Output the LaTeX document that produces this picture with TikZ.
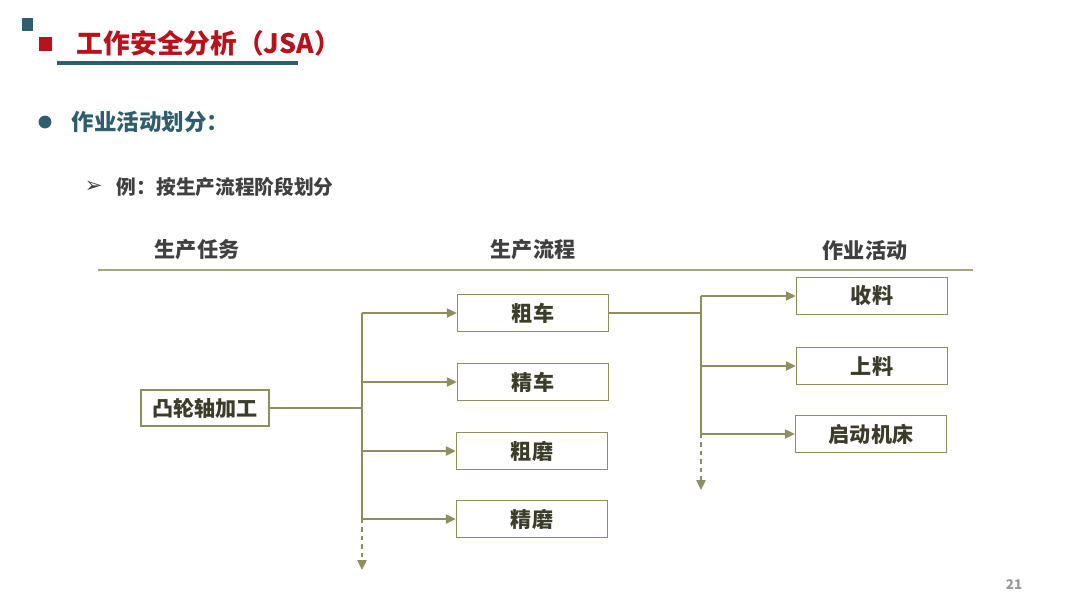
\documentclass[tikz,border=0pt]{standalone}
\usepackage{fontspec}
\setmainfont{Noto Sans CJK SC}
\newfontfamily\sym{DejaVu Sans}
\usetikzlibrary{arrows.meta,positioning}
\definecolor{tealA}{HTML}{2E5E6E}
\definecolor{redA}{HTML}{B8121C}
\definecolor{grayA}{HTML}{404040}
\definecolor{oliveA}{HTML}{8E8E5E}
\definecolor{boxtext}{HTML}{3C3C2A}

\begin{document}
\begin{tikzpicture}[x=0.025cm,y=-0.025cm,
	>={Triangle[length=7pt,width=6.5pt]},
	box/.style={draw=oliveA,line width=1pt,minimum width=3.775cm,minimum height=0.925cm,inner sep=0pt,text=boxtext,font=\bfseries\fontsize{15}{15}\selectfont},
	link/.style={draw=oliveA,line width=1pt},
	head/.style={text=grayA,font=\bfseries\fontsize{15}{15}\selectfont}]
	\useasboundingbox (0,0) rectangle (1080,608);
	\fill[tealA] (22,18) rectangle (33,31);
	\fill[redA] (39,37) rectangle (52,51);
	\node[anchor=west,text=redA,font=\bfseries\fontsize{19}{19}\selectfont] (t) at (72,43) {工作安全分析（JSA）};
	\draw[tealA,line width=2.2pt] (57,63) -- (298,63);
	\fill[tealA] (45,122) circle (0.16cm);
	\node[anchor=west,text=tealA,font=\bfseries\fontsize{16}{16}\selectfont] (s) at (67,122) {作业活动划分：};
	\node[anchor=west,text=grayA,font=\sym\fontsize{15}{15}\selectfont] (m) at (80,187) {➢};
	\node[anchor=west,text=grayA,font=\bfseries\fontsize{14}{14}\selectfont] (e) at (112,187) {例：按生产流程阶段划分};
	\node[head] (h1) at (197,250) {生产任务};
	\node[head] (h2) at (533,250) {生产流程};
	\node[head] (h3) at (865,250) {作业活动};
	\draw[draw=oliveA!80,line width=0.9pt] (98,270) -- (973,270);
	\node[box,minimum width=3.2cm,minimum height=0.9cm] (0) at (205,408) {凸轮轴加工};
	\node[box] (1) at (533,313) {粗车};
	\node[box] (2) at (533,382) {精车};
	\node[box] (3) at (532,451) {粗磨};
	\node[box] (4) at (532,519) {精磨};
	\node[box] (5) at (872,296) {收料};
	\node[box] (6) at (872,366) {上料};
	\node[box] (7) at (871,434) {启动机床};
	\coordinate (a) at (362,408);
	\coordinate (a') at (362,570);
	\coordinate (b) at (701,313);
	\coordinate (b') at (701,490);
	\draw[link] (0) -- (a);
	\draw[link] (a |- 1) -- (a |- 4);
	\draw[link,->] (a |- 1) -- (1);
	\draw[link,->] (a |- 2) -- (2);
	\draw[link,->] (a |- 3) -- (3);
	\draw[link,->] (a |- 4) -- (4);
	\draw[link,dashed,->] (a |- 4) -- (a');
	\draw[link] (1) -- (b);
	\draw[link] (b |- 5) -- (b |- 7);
	\draw[link,->] (b |- 5) -- (5);
	\draw[link,->] (b |- 6) -- (6);
	\draw[link,->] (b |- 7) -- (7);
	\draw[link,dashed,->] (b |- 7) -- (b');
	\node[text=gray!80,font=\bfseries\fontsize{9.5}{9.5}\selectfont] (p) at (1014,585) {21};
\end{tikzpicture}
\end{document}
